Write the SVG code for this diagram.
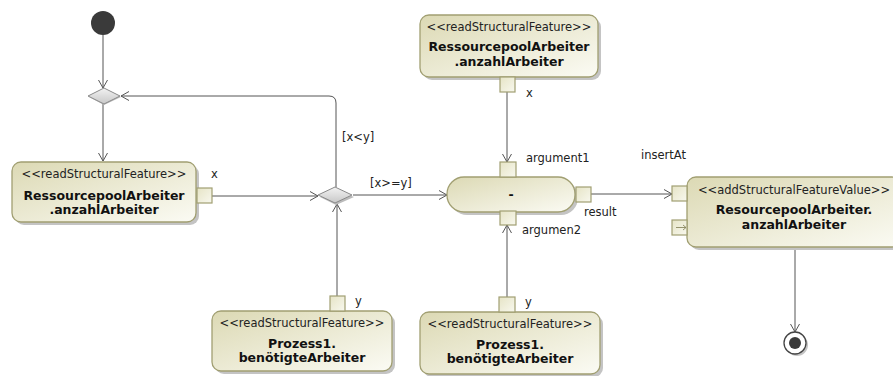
<svg xmlns="http://www.w3.org/2000/svg" width="893" height="376" viewBox="0 0 893 376">
<defs>
<linearGradient id="ng" x1="0" y1="0" x2="1" y2="1">
<stop offset="0" stop-color="#dcd9b4"/>
<stop offset="1" stop-color="#fbfbf4"/>
</linearGradient>
<linearGradient id="pg" x1="0" y1="0" x2="1" y2="1">
<stop offset="0" stop-color="#e6e4c6"/>
<stop offset="1" stop-color="#f8f8ee"/>
</linearGradient>
<linearGradient id="dg" x1="0" y1="0" x2="0" y2="1">
<stop offset="0" stop-color="#f2f2f2"/>
<stop offset="1" stop-color="#c8c8c8"/>
</linearGradient>
<marker id="arr" markerWidth="12" markerHeight="12" refX="9" refY="5" orient="auto" markerUnits="userSpaceOnUse">
<path d="M1,0.5 L9,5 L1,9.5" fill="none" stroke="#555" stroke-width="1"/>
</marker>
<style>
.node{fill:url(#ng);stroke:#a19f72;stroke-width:1.3}
.shadow{fill:#c4c4c4}
.pin{fill:url(#pg);stroke:#a19f72;stroke-width:1.2}
.dec{fill:url(#dg);stroke:#8a8a8a;stroke-width:1}
.edge{fill:none;stroke:#555;stroke-width:1;marker-end:url(#arr)}
.st{font-family:"DejaVu Sans",sans-serif;font-size:11.5px;fill:#222;text-anchor:middle}
.b{font-family:"DejaVu Sans",sans-serif;font-size:12.5px;font-weight:bold;fill:#111;text-anchor:middle}
.lbl{font-family:"DejaVu Sans",sans-serif;font-size:11.5px;fill:#222}
</style>
</defs>
<rect width="893" height="376" fill="#fff"/>

<g id="connectors">
<path class="edge" d="M103,35 V88"/>
<path class="edge" d="M103,104 V161"/>
<path class="edge" d="M336,187 V103 Q336,96 329,96 H121"/>
<path class="edge" d="M212,196 H318"/>
<path class="edge" d="M353,195 H447"/>
<path class="edge" d="M337,296 V204"/>
<path class="edge" d="M507,92 V162"/>
<path class="edge" d="M507,297 V225"/>
<path class="edge" d="M591,194 H672"/>
<path class="edge" d="M795,249 V332"/>
</g>

<g id="initial">
<circle cx="103" cy="23" r="12" fill="#3a3a3a"/>
</g>

<g id="decision1">
<polygon points="104,90 121,97 104,105 89,97" fill="#bbb"/>
<polygon class="dec" points="104,88 120,96 104,104 88,96"/>
</g>

<g id="decision2">
<polygon points="336,190 354,197 336,205 320,197" fill="#bbb"/>
<polygon class="dec" points="335,187 352,195 335,203 318,195"/>
</g>

<g id="readLeft">
<rect class="shadow" x="15" y="165" width="184" height="60" rx="9"/>
<rect class="node" x="12" y="162" width="184" height="60" rx="9"/>
<text class="st" x="104" y="178">&lt;&lt;readStructuralFeature&gt;&gt;</text>
<text class="b" x="104" y="200">RessourcepoolArbeiter</text>
<text class="b" x="104" y="214">.anzahlArbeiter</text>
<rect class="pin" x="197" y="188" width="15" height="15"/>
<text class="lbl" x="211" y="178">x</text>
</g>

<g id="readTop">
<rect class="shadow" x="423" y="18" width="178" height="62" rx="9"/>
<rect class="node" x="420" y="15" width="178" height="62" rx="9"/>
<text class="st" x="509" y="31">&lt;&lt;readStructuralFeature&gt;&gt;</text>
<text class="b" x="509" y="51">RessourcepoolArbeiter</text>
<text class="b" x="509" y="66">.anzahlArbeiter</text>
<rect class="pin" x="500" y="77" width="15" height="15"/>
<text class="lbl" x="526" y="97">x</text>
</g>

<g id="minus">
<rect class="shadow" x="450" y="180" width="128" height="35" rx="17"/>
<rect class="node" x="447" y="177" width="128" height="35" rx="17"/>
<text class="b" x="511" y="199">-</text>
<rect class="pin" x="500" y="162" width="16" height="15"/>
<rect class="pin" x="500" y="211" width="16" height="14"/>
<rect class="pin" x="576" y="187" width="15" height="15"/>
<text class="lbl" x="526" y="162">argument1</text>
<text class="lbl" x="522" y="234">argumen2</text>
<text class="lbl" x="584" y="216">result</text>
</g>

<g id="readBottomLeft">
<rect class="shadow" x="215" y="314" width="180" height="60" rx="9"/>
<rect class="node" x="212" y="311" width="180" height="60" rx="9"/>
<text class="st" x="302" y="327">&lt;&lt;readStructuralFeature&gt;&gt;</text>
<text class="b" x="302" y="348">Prozess1.</text>
<text class="b" x="302" y="362">benötigteArbeiter</text>
<rect class="pin" x="330" y="296" width="15" height="15"/>
<text class="lbl" x="355" y="305">y</text>
</g>

<g id="readBottomRight">
<rect class="shadow" x="423" y="315" width="180" height="62" rx="9"/>
<rect class="node" x="420" y="312" width="180" height="62" rx="9"/>
<text class="st" x="510" y="328">&lt;&lt;readStructuralFeature&gt;&gt;</text>
<text class="b" x="510" y="349">Prozess1.</text>
<text class="b" x="510" y="363">benötigteArbeiter</text>
<rect class="pin" x="499" y="297" width="16" height="15"/>
<text class="lbl" x="525" y="306">y</text>
</g>

<g id="addValue">
<rect class="shadow" x="690" y="180" width="214" height="70" rx="9"/>
<rect class="node" x="687" y="177" width="214" height="70" rx="9"/>
<text class="st" x="794" y="194">&lt;&lt;addStructuralFeatureValue&gt;&gt;</text>
<text class="b" x="794" y="214">ResourcepoolArbeiter.</text>
<text class="b" x="794" y="229">anzahlArbeiter</text>
<rect class="pin" x="672" y="186" width="15" height="15"/>
<rect class="pin" x="672" y="220" width="15" height="15"/>
<path d="M676,227.5 H686 M683,225 L686,227.5 L683,230" fill="none" stroke="#8a8860" stroke-width="0.9"/>
<text class="lbl" x="641" y="159">insertAt</text>
</g>

<g id="final">
<circle cx="797" cy="345" r="11" fill="#c4c4c4"/>
<circle cx="795" cy="343" r="11" fill="#fff" stroke="#444" stroke-width="1.3"/>
<circle cx="795" cy="343" r="6" fill="#3a3a3a"/>
</g>

<g id="guards">
<text class="lbl" x="342" y="141">[x&lt;y]</text>
<text class="lbl" x="370" y="187">[x&gt;=y]</text>
</g>
</svg>
